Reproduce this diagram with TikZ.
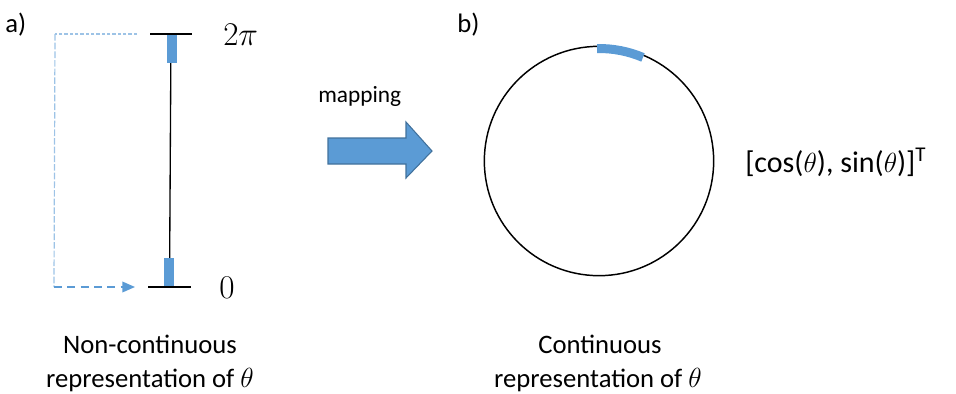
\documentclass[tikz,border=0pt]{standalone}
\usepackage{amsmath}
\usepackage[no-math]{fontspec}
\setmainfont{Carlito}
\usepackage{tikz}
\usetikzlibrary{arrows.meta}
\usetikzlibrary{calc}
\definecolor{mapblue}{HTML}{5B9BD5}
\definecolor{mapbluedark}{HTML}{41719C}
\definecolor{mapbluelight}{HTML}{9DC3E6}

\begin{document}
\begin{tikzpicture}[x=0.75pt,y=-0.75pt,
    lbl/.style={inner sep=0,font=\fontsize{20}{24}\selectfont},
    mathlbl/.style={inner sep=0,font=\fontsize{28}{30}\selectfont},
    tickline/.style={line width=1.5pt},
    bar/.style={fill=mapblue}]
\useasboundingbox (0,0) rectangle (956,393);
% a) the interval [0, 2pi]
\coordinate (topL) at (150,34); \coordinate (topR) at (192,34); \coordinate (top) at (171,34);
\coordinate (botL) at (148,287); \coordinate (botR) at (191,287); \coordinate (bot) at (169.5,287);
\draw [line width=1pt] (top) -- (bot);
\fill [bar] (166.5,34) rectangle (176.5,63);
\fill [bar] (163.5,258) rectangle (174,287);
\draw [tickline] (topL) -- (topR);
\draw [tickline] (botL) -- (botR);
\node [mathlbl,anchor=base west] (twopi) at (223,45) {$2\pi$};
\node [mathlbl,anchor=base west] (zero) at (219,298) {$0$};
% wrap-around from 2pi back to 0
\coordinate (wrapTop) at (137,34); \coordinate (wrapCorner) at (55,34);
\coordinate (wrapBot) at (54,287); \coordinate (wrapEnd) at (135,287);
\draw [mapbluelight,line width=0.8pt,dash pattern=on 2.5pt off 1.5pt] (wrapTop) -- (wrapCorner);
\draw [mapbluelight,line width=0.9pt,dash pattern=on 5pt off 1.5pt] (wrapCorner) -- (wrapBot);
\draw [mapblue,line width=1.1pt,dash pattern=on 6pt off 4pt,-{Triangle[length=9.5pt,width=8pt]}] (wrapBot) -- (wrapEnd);
\node [lbl,anchor=base west] (capA) at (5,32) {a)};
\node [lbl,anchor=base] (noncont) at (150,353) {Non-continuous};
\node [lbl,anchor=base] (noncontB) at (150,387) {representation of $\theta$};
% mapping arrow
\node [inner sep=0,anchor=base west,font=\fontsize{17.5}{20}\selectfont] (map) at (318,102) {mapping};
\draw [fill=mapblue,draw=mapbluedark,line width=0.8pt] (328,138) -- (406,138) -- (406,122) -- (432,151) -- (406,178) -- (406,164) -- (328,164) -- cycle;
% b) the unit circle
\node [lbl,anchor=base west] (capB) at (457,32) {b)};
\node [circle,draw,line width=1.1pt,minimum size=172pt,inner sep=0] (ring) at (599,161) {};
\draw [mapblue,line width=6.75pt] ($(ring.center)+(-91:112.5)$) arc [start angle=-91,end angle=-67,radius=112.5];
\node [inner sep=0,anchor=base west,font=\fontsize{22.5}{26}\selectfont] (vec) at (745,172) {[cos($\theta$), sin($\theta$)]\textsuperscript{T}};
\node [lbl,anchor=base] (cont) at (600,353) {Continuous};
\node [lbl,anchor=base] (contB) at (598,387) {representation of $\theta$};
\end{tikzpicture}
\end{document}
